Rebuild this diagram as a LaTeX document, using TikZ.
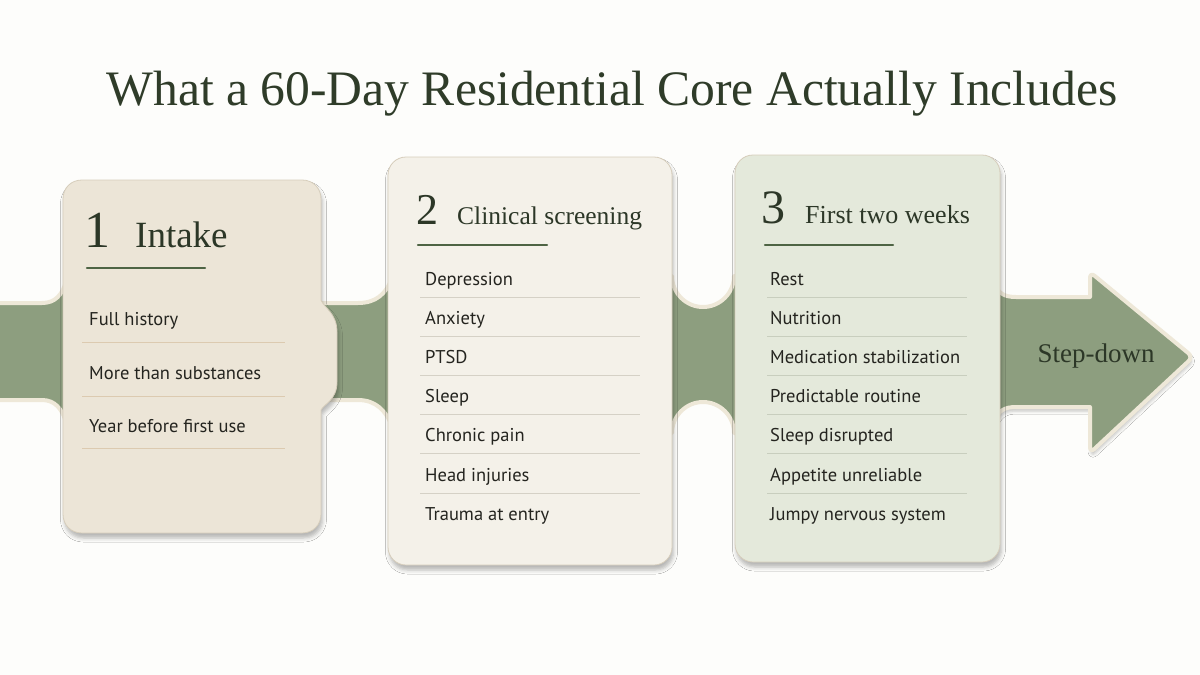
\documentclass[tikz,border=0pt]{standalone}
\usepackage{fontspec}
\setmainfont{Liberation Serif}
\newfontfamily\itemfont{PT Sans}
\usetikzlibrary{shadows.blur}
\definecolor{bgcol}{HTML}{FDFDFB}
\definecolor{titlecol}{HTML}{2F3C29}
\definecolor{headcol}{HTML}{2C3727}
\definecolor{bandcol}{HTML}{8D9E7F}
\definecolor{bandedge}{HTML}{EEE8D8}
\definecolor{cardA}{HTML}{ECE5D7}
\definecolor{cardB}{HTML}{F4F1E9}
\definecolor{cardC}{HTML}{E4E9DB}
\definecolor{cardedge}{HTML}{D6CDBB}
\definecolor{sepA}{HTML}{DCCAB0}
\definecolor{sepB}{HTML}{D5D1C6}
\definecolor{sepC}{HTML}{C8CEBE}
\definecolor{rulecol}{HTML}{4E6444}
\definecolor{textcol}{HTML}{24241F}
\tikzset{
  band/.style={fill=bandcol, draw=bandedge, line width=4pt, line join=round},
  cardshape/.style={draw=cardedge, line width=0.8pt,
    blur shadow={shadow xshift=1.5pt, shadow yshift=-5pt, shadow blur radius=4pt, shadow opacity=28}},
  itemtxt/.style={font=\itemfont\fontsize{18.5}{21}\selectfont, text=textcol, anchor=base west, inner sep=0pt},
  numtxt/.style={font=\fontsize{46}{50}\selectfont, text=headcol, anchor=base west, inner sep=0pt},
  headtxt/.style={font=\fontsize{26}{30}\selectfont, text=headcol, anchor=base west, inner sep=0pt},
  headrule/.style={draw=rulecol, line width=2.2pt, line cap=round},
  sepline/.style={line width=0.8pt}
}
\begin{document}
\begin{tikzpicture}[x=1pt,y=-1pt]
\fill[bgcol] (0,0) rectangle (1200,675);
\useasboundingbox (0,0) rectangle (1200,675);

% title
\node[font=\fontsize{49.6}{56}\selectfont, text=titlecol, anchor=base, inner sep=0pt] (title) at (612,105) {What a 60-Day Residential Core Actually Includes};

% band segments
\path[band] (-6,303) -- (42,303) .. controls (55,303) and (62,295) .. (66,282) -- (66,422) .. controls (62,409) and (55,400) .. (42,400) -- (-6,400) -- cycle;
\path[band] (310,303) -- (358,303) .. controls (376,303) and (386,294) .. (392,278) -- (392,426) .. controls (386,411) and (376,400) .. (358,400) -- (310,400) -- cycle;
\path[band] (666,276) -- (672,276) .. controls (672,293) and (686,307) .. (703,307) .. controls (720,307) and (734,293) .. (734,276) -- (740,276) -- (740,433) -- (734,433) .. controls (734,416) and (720,402) .. (703,402) .. controls (686,402) and (672,416) .. (672,433) -- (666,433) -- cycle;
\path[band, blur shadow={shadow xshift=1pt, shadow yshift=-4pt, shadow blur radius=3pt, shadow opacity=22}]
  (994,283) .. controls (998,293) and (1004,297) .. (1016,297) -- (1090,297) [rounded corners=6pt] -- (1090,272) -- (1193,357) -- (1090,453) [rounded corners=0pt] -- (1090,407) -- (1016,407) .. controls (1004,407) and (998,411) .. (994,422) -- cycle;
\node[font=\fontsize{27}{30}\selectfont, text=headcol, anchor=base, inner sep=0pt] (stepdown) at (1096,362) {Step-down};

% card 1
\path[cardshape, fill=cardA] (82,180) -- (302,180) .. controls (313,180) and (321,188) .. (321,199) -- (321,300) .. controls (324,308) and (337,313) .. (337,332) -- (337,382) .. controls (337,400) and (324,404) .. (321,410) -- (321,514) .. controls (321,525) and (313,533) .. (302,533) -- (82,533) .. controls (71,533) and (63,525) .. (63,514) -- (63,199) .. controls (63,188) and (71,180) .. (82,180) -- cycle;
\node[numtxt, font=\fontsize{52}{56}\selectfont] (n1) at (84,247) {1};
\node[headtxt, font=\fontsize{37}{40}\selectfont] (h1) at (135,247) {Intake};
\coordinate (r1a) at (87,268); \coordinate (r1b) at (205,268);
\draw[headrule] (r1a) -- (r1b);
\node[itemtxt] (a1) at (89,325) {Full history};
\node[itemtxt] (a2) at (89,379) {More than substances};
\node[itemtxt] (a3) at (89,432) {Year before first use};
\foreach \yy in {342,396,448} \draw[sepline, draw=sepA] (82,\yy) -- (285,\yy);

% card 2
\path[cardshape, fill=cardB, rounded corners=18pt] (388,157) rectangle (672,565);
\node[numtxt, font=\fontsize{44}{48}\selectfont] (n2) at (416,224) {2};
\node[headtxt, font=\fontsize{25.5}{30}\selectfont] (h2) at (457,224) {Clinical screening};
\coordinate (r2a) at (418,245); \coordinate (r2b) at (547,245);
\draw[headrule] (r2a) -- (r2b);
\foreach \t [count=\i from 0] in {Depression,Anxiety,PTSD,Sleep,Chronic pain,Head injuries,Trauma at entry}
  \node[itemtxt] (b\i) at (425,285+39.2*\i) {\t};
\foreach \i in {0,...,5} \draw[sepline, draw=sepB] (420,297+39.2*\i) -- (640,297+39.2*\i);

% card 3
\path[cardshape, fill=cardC, rounded corners=18pt] (735,155) rectangle (1000,562);
\node[numtxt, font=\fontsize{48}{52}\selectfont] (n3) at (761,223) {3};
\node[headtxt] (h3) at (805,223) {First two weeks};
\coordinate (r3a) at (765,245); \coordinate (r3b) at (893,245);
\draw[headrule] (r3a) -- (r3b);
\foreach \t [count=\i from 0] in {Rest,Nutrition,Medication stabilization,Predictable routine,Sleep disrupted,Appetite unreliable,Jumpy nervous system}
  \node[itemtxt] (c\i) at (770,285+39.2*\i) {\t};
\foreach \i in {0,...,5} \draw[sepline, draw=sepC] (767,297+39.2*\i) -- (967,297+39.2*\i);
\end{tikzpicture}
\end{document}
